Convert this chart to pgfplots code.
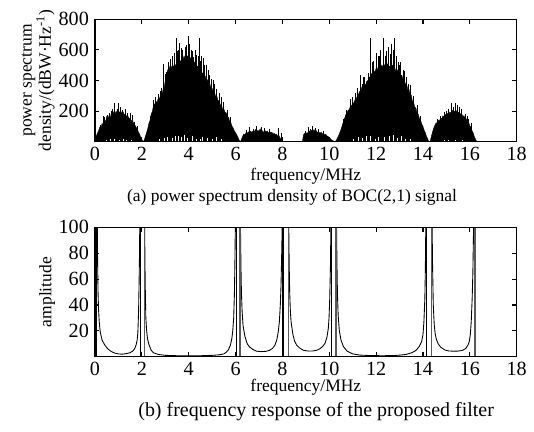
\documentclass[border=0pt]{standalone}
\usepackage{pgfplots}
\pgfplotsset{compat=1.18}
\usepackage{fontspec}
\setmainfont{Liberation Serif}
\begin{document}
\begin{tikzpicture}
\path (-54.3pt,11pt) rectangle (250.9pt,-235.8pt);
\pgfplotsset{
  myax/.style={scale only axis, width=241pt, xmin=0, xmax=18,
    xtick={0,2,...,18}, tick align=inside, major tick length=2.5pt,
    axis on top, axis line style={line width=0.6pt},
    every tick/.style={line width=0.6pt, black},
    /pgf/number format/assume math mode=true,
    tick label style={font=\fontsize{11.5}{13}\selectfont},
    xticklabel style={yshift=0.5pt},
    clip=true}
}
\begin{axis}[myax, name=top, at={(0,0)}, anchor=north west, height=70pt,
  ymin=0, ymax=800, ytick={200,400,600,800}]
% envelope of the spectrum
\addplot[fill=black, draw=black, line width=0.2pt] coordinates {
(0.00,0) (0.05,35) (0.10,55) (0.15,70) (0.20,95) (0.25,85) (0.30,120) (0.35,110) (0.40,145) (0.45,130)
(0.50,165) (0.55,150) (0.60,170) (0.65,160) (0.70,185) (0.75,170) (0.80,195) (0.85,180) (0.90,200) (0.95,185)
(1.00,205) (1.05,190) (1.10,200) (1.15,185) (1.20,195) (1.25,175) (1.30,180) (1.35,165) (1.40,170) (1.45,150)
(1.50,155) (1.55,135) (1.60,140) (1.65,120) (1.70,110) (1.75,95) (1.80,85) (1.85,65) (1.90,50) (1.95,30)
(2.00,15) (2.05,0)
(2.10,10) (2.15,35) (2.20,60) (2.25,85) (2.30,120) (2.35,140) (2.40,180) (2.45,200) (2.50,240) (2.55,245)
(2.60,265) (2.65,255) (2.70,285) (2.75,280) (2.80,310) (2.85,300) (2.90,340) (2.95,350) (3.00,400) (3.05,430)
(3.10,470) (3.15,465) (3.20,495) (3.25,480) (3.30,500) (3.35,490) (3.40,510) (3.45,495) (3.50,520) (3.55,505)
(3.60,535) (3.65,520) (3.70,545) (3.75,530) (3.80,560) (3.85,545) (3.90,570) (3.95,555) (4.00,565) (4.05,545)
(4.10,550) (4.15,530) (4.20,535) (4.25,515) (4.30,520) (4.35,490) (4.40,495) (4.45,470) (4.50,465) (4.55,445)
(4.60,450) (4.65,425) (4.70,430) (4.75,400) (4.80,405) (4.85,380) (4.90,380) (4.95,350) (5.00,350) (5.05,320)
(5.10,325) (5.15,295) (5.20,300) (5.25,265) (5.30,270) (5.35,240) (5.40,240) (5.45,210) (5.50,215) (5.55,190)
(5.60,190) (5.65,165) (5.70,160) (5.75,135) (5.80,125) (5.85,100) (5.90,90) (5.95,70) (6.00,60) (6.05,45)
(6.10,30) (6.15,12) (6.20,0)
(6.25,15) (6.30,35) (6.35,50) (6.40,45) (6.45,60) (6.50,55) (6.55,65) (6.60,60) (6.65,70) (6.70,58)
(6.75,72) (6.80,65) (6.85,80) (6.90,62) (6.95,75) (7.00,68) (7.05,85) (7.10,65) (7.15,72) (7.20,60)
(7.25,75) (7.30,62) (7.35,70) (7.40,55) (7.45,68) (7.50,58) (7.55,62) (7.60,50) (7.65,55) (7.70,45)
(7.75,50) (7.80,35) (7.85,40) (7.90,25) (7.95,15) (8.00,5) (8.05,0)
(8.85,0) (8.90,45) (8.95,55) (9.00,50) (9.05,60) (9.10,55) (9.15,70) (9.20,60) (9.25,75) (9.30,65)
(9.35,80) (9.40,62) (9.45,72) (9.50,58) (9.55,65) (9.60,55) (9.65,62) (9.70,50) (9.75,55) (9.80,45)
(9.85,48) (9.90,38) (9.95,35) (10.00,25) (10.05,20) (10.10,12) (10.15,8) (10.20,3) (10.25,0)
(10.30,10) (10.35,25) (10.40,40) (10.45,60) (10.50,80) (10.55,105) (10.60,130) (10.65,150) (10.70,175) (10.75,185)
(10.80,205) (10.85,210) (10.90,230) (10.95,235) (11.00,250) (11.05,255) (11.10,275) (11.15,280) (11.20,300) (11.25,310)
(11.30,330) (11.35,335) (11.40,360) (11.45,355) (11.50,375) (11.55,370) (11.60,395) (11.65,400) (11.70,420) (11.75,425)
(11.80,445) (11.85,440) (11.90,465) (11.95,455) (12.00,480) (12.05,470) (12.10,495) (12.15,485) (12.20,505) (12.25,490)
(12.30,500) (12.35,495) (12.40,515) (12.45,500) (12.50,510) (12.55,490) (12.60,495) (12.65,485) (12.70,500) (12.75,475)
(12.80,480) (12.85,460) (12.90,470) (12.95,450) (13.00,455) (13.05,430) (13.10,435) (13.15,405) (13.20,410) (13.25,375)
(13.30,380) (13.35,340) (13.40,345) (13.45,305) (13.50,305) (13.55,265) (13.60,260) (13.65,225) (13.70,220) (13.75,185)
(13.80,180) (13.85,150) (13.90,140) (13.95,115) (14.00,100) (14.05,75) (14.10,60) (14.15,35) (14.20,20) (14.25,0)
(14.30,0) (14.35,30) (14.40,60) (14.45,85) (14.50,105) (14.55,120) (14.60,125) (14.65,140) (14.70,135) (14.75,155)
(14.80,150) (14.85,170) (14.90,160) (14.95,178) (15.00,170) (15.05,185) (15.10,178) (15.15,195) (15.20,185) (15.25,205)
(15.30,190) (15.35,200) (15.40,188) (15.45,205) (15.50,190) (15.55,195) (15.60,178) (15.65,185) (15.70,165) (15.75,170)
(15.80,150) (15.85,150) (15.90,130) (15.95,125) (16.00,105) (16.05,95) (16.10,70) (16.15,55) (16.20,30) (16.25,15)
(16.30,0) (16.50,0)
} \closedcycle;
% medium spikes
\addplot[ycomb, black, line width=0.45pt, mark=none] coordinates {
(0.25,110) (0.42,160) (0.62,190) (0.72,200) (0.95,215) (1.18,210) (1.40,190) (1.70,130) (1.82,100)
(2.35,170) (2.58,290) (2.78,330) (2.85,350) (3.00,440) (3.20,540) (3.38,580) (3.52,590) (3.68,610)
(3.90,630) (4.05,640) (4.15,590) (4.28,600) (4.40,560) (4.50,530) (4.68,500) (4.82,470) (4.98,410)
(5.10,380) (5.30,320) (5.50,260) (5.65,210) (5.80,160)
(6.45,75) (6.75,85) (7.25,90) (7.45,80) (9.00,70) (9.20,85) (9.55,80) (9.75,70)
(10.60,150) (10.75,210) (11.00,290) (11.20,350) (11.50,420) (11.65,450) (11.90,530) (12.10,560)
(12.20,600) (12.45,590) (12.60,570) (12.72,600) (12.88,560) (13.00,500) (13.15,470) (13.22,460)
(13.45,370) (13.60,300) (13.75,240) (13.90,170)
(14.60,150) (14.75,170) (15.10,215) (15.30,230) (15.48,240) (15.65,215) (15.95,150) (16.05,120)
};
% tall spikes
\addplot[ycomb, black, line width=0.5pt, mark=none] coordinates {
(0.35,165) (0.55,175) (0.75,215) (0.85,250) (1.00,250) (1.10,225) (1.30,215) (1.50,185) (1.60,175)
(2.50,275) (2.70,310) (2.92,505) (3.05,455) (3.13,520) (3.30,560) (3.46,676) (3.55,600) (3.60,645)
(3.74,600) (3.85,620) (3.98,688) (4.10,600) (4.20,556) (4.34,565) (4.44,676) (4.55,560) (4.62,545)
(4.75,500) (4.90,436) (5.05,400) (5.20,345) (5.40,290)
(6.60,95) (6.90,100) (7.10,95) (7.82,90) (7.94,55)
(9.10,95) (9.30,100) (9.40,90)
(10.90,280) (11.10,320) (11.31,436) (11.40,380) (11.45,420) (11.57,382) (11.74,676) (11.85,520) (12.02,578)
(12.15,560) (12.30,680) (12.40,560) (12.52,621) (12.66,640) (12.80,676) (12.94,523) (13.05,520)
(13.30,425) (13.40,380) (13.52,294)
(14.90,195) (15.00,200) (15.22,251) (15.40,251) (15.55,225) (15.80,180) (15.90,165)
};
% white gaps near the floor
\addplot[ycomb, white, line width=0.5pt, mark=none] coordinates {
(0.50,12) (0.65,15) (0.85,18) (1.05,14) (1.20,18) (1.35,12) (1.55,10)
(2.75,15) (2.95,22) (3.10,30) (3.30,25) (3.45,40) (3.55,35) (3.70,30) (3.80,45) (3.95,25)
(4.15,40) (4.35,20) (4.50,15) (4.60,30) (4.80,25) (5.00,20) (5.20,28) (5.40,15)
(11.05,20) (11.25,30) (11.40,25) (11.60,40) (11.75,35) (11.95,20) (12.10,30) (12.35,28)
(12.55,35) (12.75,45) (12.90,25) (13.10,38) (13.25,20) (13.45,15)
(14.90,10) (15.10,12) (15.40,14) (15.70,10)
};
\end{axis}
\node[rotate=90, align=center, font=\fontsize{10}{11}\selectfont] at ([xshift=-32.5pt]top.west) {power spectrum\\density/(dBW·Hz\textsuperscript{-1})};
\node[font=\fontsize{10}{12}\selectfont] at ([yshift=-19.5pt]top.south) {frequency/MHz};
\node[font=\fontsize{10}{12}\selectfont] at ([yshift=-31.6pt,xshift=-7.9pt]top.south) {(a) power spectrum density of BOC(2,1) signal};

\begin{axis}[myax, name=bot, at={(0,-118.9pt)}, anchor=north west, height=74pt,
  ymin=0, ymax=100, ytick={20,40,60,80,100}]
\addplot[black, line width=0.5pt] coordinates {(0.10,100) (0.11,75) (0.13,50) (0.15,37) (0.18,27) (0.22,19.5) (0.30,13) (0.41,9.2) (0.55,6) (0.70,4) (0.85,2.8) (1.00,2.2) (1.15,2) (1.30,2.3) (1.48,3) (1.62,4.5) (1.70,6.5) (1.76,9.5) (1.80,13) (1.83,19) (1.86,35) (1.88,55) (1.90,80) (1.91,100)};
\addplot[black, line width=0.5pt] coordinates {(2.12,100) (2.13,75) (2.15,48) (2.17,30) (2.20,21) (2.24,14) (2.30,9.5) (2.40,5) (2.50,3) (2.70,1.8) (3.00,1.1) (3.50,0.8) (4.00,0.7) (4.50,0.8) (5.00,1.1) (5.30,1.5) (5.50,2.2) (5.60,3.5) (5.70,5.5) (5.78,9) (5.84,14) (5.88,20) (5.92,30) (5.95,48) (5.97,70) (5.99,100)};
\addplot[black, line width=0.5pt] coordinates {(6.21,100) (6.23,70) (6.25,50) (6.28,35) (6.32,24) (6.40,15.6) (6.50,10) (6.60,7.5) (6.76,5.4) (6.90,4.3) (7.10,4) (7.30,4.2) (7.45,5) (7.58,6.5) (7.68,9) (7.76,13) (7.82,19) (7.87,27) (7.91,40) (7.94,55) (7.97,80) (7.99,100)};
\addplot[black, line width=0.5pt] coordinates {(8.27,100) (8.29,70) (8.31,50) (8.34,35) (8.37,27) (8.45,17) (8.52,12) (8.61,9) (8.75,6.5) (8.90,5) (9.10,4.4) (9.30,4.5) (9.46,5) (9.60,6.2) (9.72,8) (9.82,10.5) (9.90,15) (9.96,22) (9.99,30) (10.02,45) (10.05,70) (10.07,100)};
\addplot[black, line width=0.5pt] coordinates {(10.31,100) (10.33,70) (10.35,48) (10.38,32) (10.43,20) (10.50,13) (10.60,8) (10.75,4.5) (11.00,2.2) (11.30,1.3) (11.80,0.9) (12.30,0.8) (12.80,1) (13.10,1.4) (13.30,1.9) (13.50,3) (13.65,4.3) (13.73,5.5) (13.84,8) (13.94,11.5) (14.00,17) (14.04,27) (14.08,45) (14.10,65) (14.12,100)};
\addplot[black, line width=0.5pt] coordinates {(14.39,100) (14.41,70) (14.44,40) (14.48,25) (14.52,18) (14.57,13.5) (14.65,10) (14.75,7.5) (14.94,5.2) (15.10,4.5) (15.30,4.3) (15.50,4.4) (15.70,5) (15.83,6.5) (15.92,9) (15.98,12) (16.02,17) (16.06,27) (16.10,45) (16.13,65) (16.16,100)};
% vertical lines at the poles
\addplot[ycomb, black, line width=0.9pt, mark=none] coordinates {(0.07,100) (1.95,100) (6.04,100) (8.02,100) (10.10,100) (14.15,100)};
\addplot[ycomb, black!65, line width=0.7pt, mark=none] coordinates {(2.10,100) (6.19,100) (8.25,100) (10.29,100) (14.37,100) (16.22,100)};
\end{axis}
\node[rotate=90, font=\fontsize{10}{12}\selectfont] at ([xshift=-27.4pt]bot.west) {amplitude};
\node[font=\fontsize{10}{12}\selectfont] at ([yshift=-17.5pt]bot.south) {frequency/MHz};
\node[font=\fontsize{11.4}{13}\selectfont] at ([yshift=-31.5pt,xshift=5.9pt]bot.south) {(b) frequency response of the proposed filter};
\end{tikzpicture}
\end{document}
